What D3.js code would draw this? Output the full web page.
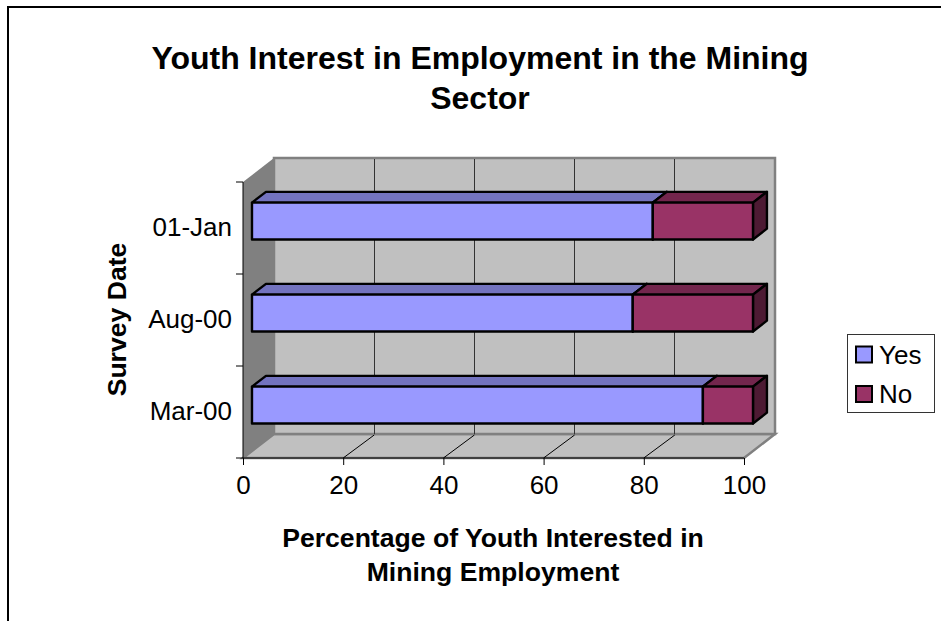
<!DOCTYPE html>
<html>
<head>
<meta charset="utf-8">
<script src="https://cdn.jsdelivr.net/npm/d3@7"></script>
<style>
html,body{margin:0;padding:0;background:#fff}
svg{display:block}
text{font-family:"Liberation Sans",Arial,sans-serif;fill:#000}
</style>
</head>
<body>
<svg id="chart" width="941" height="621"></svg>
<script>
const categories = ["Mar-00", "Aug-00", "01-Jan"];
const seriesNames = ["Yes", "No"];
const yesValues = [90, 76, 80];
const noValues = [10, 24, 20];
const xTicks = [0, 20, 40, 60, 80, 100];
const titleLines = ["Youth Interest in Employment in the Mining", "Sector"];
const xTitleLines = ["Percentage of Youth Interested in", "Mining Employment"];
const yTitle = "Survey Date";

const colors = {
  Yes: {front: "#9999ff", top: "#7373bf", side: "#4d4d80"},
  No: {front: "#993366", top: "#73264d", side: "#4d1a33"}
};

const svg = d3.select("#chart");

// Front plane of the 3D box and the depth offset towards its back wall
const x = d3.scaleLinear().domain([0, 100]).range([243, 744]);
const y = d3.scaleBand().domain(categories).range([458, 182]);
const depth = {dx: 31, dy: -24};
const project = (v, py, d) => [x(v) + depth.dx * d, py + depth.dy * d];
const path = pts => "M" + pts.map(p => p.join(",")).join("L") + "Z";

// Outer frame, open on the right and bottom
svg.append("path").attr("d", "M8,621V7H941").attr("fill", "none")
  .attr("stroke", "#000").attr("stroke-width", 2);

const yTop = y.range()[1], yBot = y.range()[0];

// Box walls
svg.append("path").attr("d", path([project(0, yTop, 0), project(0, yTop, 1), project(0, yBot, 1), project(0, yBot, 0)]))
  .attr("fill", "#808080");
svg.append("path").attr("d", path([project(0, yBot, 0), project(100, yBot, 0), project(100, yBot, 1), project(0, yBot, 1)]))
  .attr("fill", "#c0c0c0").attr("stroke", "#808080").attr("stroke-width", 2.5);
svg.append("path").attr("d", path([project(0, yTop, 1), project(100, yTop, 1), project(100, yBot, 1), project(0, yBot, 1)]))
  .attr("fill", "#c0c0c0").attr("stroke", "#808080").attr("stroke-width", 2.5);

// Gridlines across the back wall and floor
const inner = xTicks.slice(1, -1);
const lines = svg.append("g").attr("stroke-width", 1).attr("shape-rendering", "crispEdges");
inner.forEach(t => {
  const [bx, by1] = project(t, yTop, 1);
  const [, by2] = project(t, yBot, 1);
  lines.append("line").attr("x1", bx).attr("x2", bx).attr("y1", by1 + 1).attr("y2", by2).attr("stroke", "#333");
});
const floorLines = svg.append("g").attr("stroke", "#000").attr("stroke-width", 1);
inner.forEach(t => {
  const a = project(t, yBot, 0), b = project(t, yBot, 1);
  floorLines.append("line").attr("x1", a[0]).attr("y1", a[1]).attr("x2", b[0]).attr("y2", b[1] + 1);
});

// Left edge of the side wall and front edge of the floor
svg.append("line").attr("x1", x(0)).attr("x2", x(0)).attr("y1", yTop).attr("y2", yBot).attr("stroke", "#000");
svg.append("line").attr("x1", x(0)).attr("x2", x(100)).attr("y1", yBot).attr("y2", yBot).attr("stroke", "#000");

// Stacked 3D bars, drawn back to front
const barFrac = 0.40;
const dNear = 0.29, dFar = 0.74;
const rows = categories.map((c, i) => ({c, parts: [
  {s: "Yes", a: 0, b: yesValues[i]},
  {s: "No", a: yesValues[i], b: yesValues[i] + noValues[i]}
]}));
const bars = svg.append("g").attr("stroke", "#000").attr("stroke-width", 2.4).attr("stroke-linejoin", "round");
rows.slice().reverse().forEach(r => {
  const mid = y(r.c) + y.bandwidth() / 2;
  const t = mid - y.bandwidth() * barFrac / 2, b = mid + y.bandwidth() * barFrac / 2;
  r.parts.forEach(p => {
    const col = colors[p.s];
    bars.append("path").attr("fill", col.top)
      .attr("d", path([project(p.a, t, dNear), project(p.a, t, dFar), project(p.b, t, dFar), project(p.b, t, dNear)]));
    bars.append("path").attr("fill", col.side)
      .attr("d", path([project(p.b, t, dNear), project(p.b, t, dFar), project(p.b, b, dFar), project(p.b, b, dNear)]));
    bars.append("path").attr("fill", col.front)
      .attr("d", path([project(p.a, t, dNear), project(p.b, t, dNear), project(p.b, b, dNear), project(p.a, b, dNear)]));
  });
});

// Axes on the front plane
const labelSize = 26;
const xAxis = svg.append("g").attr("transform", `translate(0,${yBot})`)
  .call(d3.axisBottom(x).tickValues(xTicks).tickSize(7).tickSizeOuter(0).tickPadding(11));
xAxis.select(".domain").remove();
xAxis.selectAll("text").attr("font-size", labelSize).style("font-family", '"Liberation Sans"').attr("fill", "#000");

const yAxis = svg.append("g").attr("transform", "translate(243,0)")
  .call(d3.axisLeft(y).tickSize(0).tickPadding(11));
yAxis.select(".domain").remove();
yAxis.selectAll("text").attr("font-size", labelSize).style("font-family", '"Liberation Sans"').attr("fill", "#000");
const bandEdges = categories.map(c => y(c) + y.bandwidth()).concat(yTop);
yAxis.selectAll(".edge").data(bandEdges).join("line").attr("class", "edge")
  .attr("x1", -7).attr("x2", 0).attr("y1", d => d).attr("y2", d => d).attr("stroke", "#000");

// Titles
svg.append("text").attr("text-anchor", "middle").attr("font-weight", "bold").attr("font-size", 32)
  .selectAll("tspan").data(titleLines).join("tspan")
  .attr("x", 480).attr("y", (d, i) => 68.5 + i * 40).text(d => d);
svg.append("text").attr("text-anchor", "middle").attr("font-weight", "bold").attr("font-size", 26.6)
  .selectAll("tspan").data(xTitleLines).join("tspan")
  .attr("x", 493).attr("y", (d, i) => 547 + i * 34).text(d => d);
svg.append("text").attr("text-anchor", "middle").attr("font-weight", "bold").attr("font-size", 26.6)
  .attr("transform", "translate(126,319.5) rotate(-90)").text(yTitle);

// Legend
const legend = svg.append("g");
legend.append("rect").attr("x", 847.5).attr("y", 334.5).attr("width", 87).attr("height", 78)
  .attr("fill", "#fff").attr("stroke", "#333").attr("stroke-width", 1);
const legendY = d3.scalePoint().domain(seriesNames).range([354.5, 394]);
seriesNames.forEach(s => {
  legend.append("rect").attr("x", 856).attr("y", legendY(s) - 8).attr("width", 16).attr("height", 16)
    .attr("fill", colors[s].front).attr("stroke", "#000").attr("stroke-width", 2);
  legend.append("text").attr("x", 879).attr("y", legendY(s) + 9).attr("font-size", labelSize).text(s);
});
</script>
</body>
</html>
